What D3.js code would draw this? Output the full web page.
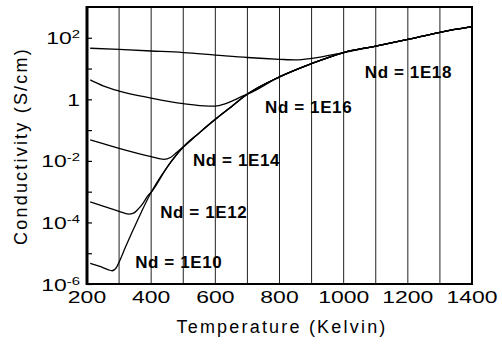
<!DOCTYPE html>
<html>
<head>
<meta charset="utf-8">
<script src="https://cdn.jsdelivr.net/npm/d3@7/dist/d3.min.js"></script>
<style>
  html, body { margin: 0; padding: 0; background: #fff; }
  svg { display: block; }
  text { font-family: "Liberation Sans", Arial, Helvetica, sans-serif; fill: #000; }
</style>
</head>
<body>
<svg id="chart" width="502" height="346"></svg>
<script>
// Electrical conductivity of silicon vs temperature for several donor densities (Nd, cm^-3)

// Intrinsic branch shared by every doping level (T in K, conductivity in S/cm)
const intrinsicT = [300, 320, 340, 370, 400, 450, 500, 550, 600, 650, 700, 800, 900, 1000, 1100, 1200, 1300, 1400];
const intrinsicS = [5.13e-6, 1.58e-5, 4.68e-5, 2.24e-4, 9.55e-4, 6.31e-3, 2.82e-2, 8.13e-2, 0.224, 0.575, 1.48, 5.37, 14.5, 33.1, 53.7, 89.1, 151, 229];

// Extrinsic (low temperature) branches, one per donor density
const nd10T = [210, 240, 265, 278, 292];
const nd10S = [4.68e-6, 3.72e-6, 2.95e-6, 2.69e-6, 3.47e-6];

const nd12T = [210, 250, 300, 330, 345, 360, 375, 390];
const nd12S = [4.68e-4, 3.39e-4, 2.29e-4, 1.86e-4, 2.00e-4, 2.75e-4, 4.27e-4, 7.41e-4];

const nd14T = [210, 250, 300, 400, 440, 460, 480];
const nd14S = [4.79e-2, 3.63e-2, 2.57e-2, 1.38e-2, 1.12e-2, 1.29e-2, 1.91e-2];

const nd16T = [210, 250, 300, 400, 500, 580, 600, 630, 660, 690];
const nd16S = [4.27, 2.75, 1.86, 1.10, 0.724, 0.603, 0.603, 0.708, 0.955, 1.35];

const nd18T = [210, 300, 400, 500, 600, 700, 800, 850, 900, 950];
const nd18S = [45.7, 41.7, 37.2, 33.1, 27.5, 22.9, 20.0, 19.1, 21.4, 26.3];

const seriesNames = ["Nd = 1E10", "Nd = 1E12", "Nd = 1E14", "Nd = 1E16", "Nd = 1E18"];
// label anchor in data space (left end of text, baseline)
const labelT = [350, 428, 530, 755, 1066];
const labelS = [3.3e-6, 1.4e-4, 6.8e-3, 0.36, 4.9];

const xTicks = [200, 400, 600, 800, 1000, 1200, 1400];
const xGrid = [300, 400, 500, 600, 700, 800, 900, 1000, 1100, 1200, 1300];
const yLabelExp = [2, 0, -2, -4, -6];
const yTickExp = [-6, -5, -4, -3, -2, -1, 0, 1, 2];

const W = 502, H = 346;
const plot = { left: 87, right: 472, top: 7, bottom: 284 };

const svg = d3.select("#chart");

const x = d3.scaleLinear().domain([200, 1400]).range([plot.left, plot.right]);
const y = d3.scaleLog().domain([1e-6, 1e3]).range([plot.bottom, plot.top]);

// vertical grid lines
svg.append("g")
  .selectAll("line")
  .data(xGrid)
  .join("line")
  .attr("x1", d => x(d)).attr("x2", d => x(d))
  .attr("y1", plot.top).attr("y2", plot.bottom)
  .attr("stroke", "#222")
  .attr("stroke-width", 1);

// left axis ticks pointing into the plot
const yAxis = d3.axisRight(y)
  .tickValues(yTickExp.map(e => Math.pow(10, e)))
  .tickSize(5)
  .tickFormat("");
svg.append("g")
  .attr("transform", `translate(${plot.left},0)`)
  .call(yAxis)
  .call(g => g.select(".domain").remove())
  .call(g => g.selectAll("line").attr("stroke", "#000").attr("stroke-width", 1.2));

// build each curve: extrinsic branch, then the intrinsic branch above its last temperature
function buildCurve(tArr, sArr) {
  const pts = tArr.map((t, i) => ({ t, s: sArr[i] }));
  const tMax = tArr[tArr.length - 1];
  intrinsicT.forEach((t, i) => { if (t > tMax) pts.push({ t, s: intrinsicS[i] }); });
  return pts;
}
const curves = [
  buildCurve(nd10T, nd10S),
  buildCurve(nd12T, nd12S),
  buildCurve(nd14T, nd14S),
  buildCurve(nd16T, nd16S),
  buildCurve(nd18T, nd18S)
];

const line = d3.line()
  .x(d => x(d.t))
  .y(d => y(d.s))
  .curve(d3.curveMonotoneX);

svg.append("g")
  .selectAll("path")
  .data(curves)
  .join("path")
  .attr("d", line)
  .attr("fill", "none")
  .attr("stroke", "#000")
  .attr("stroke-width", 1.3);

// series labels
svg.append("g")
  .selectAll("text")
  .data(seriesNames)
  .join("text")
  .attr("x", (d, i) => x(labelT[i]))
  .attr("y", (d, i) => y(labelS[i]))
  .attr("font-size", 17)
  .attr("font-weight", "bold")
  .attr("letter-spacing", 0.6)
  .text(d => d);

// frame
svg.append("rect")
  .attr("x", plot.left).attr("y", plot.top)
  .attr("width", plot.right - plot.left)
  .attr("height", plot.bottom - plot.top)
  .attr("fill", "none")
  .attr("stroke", "#000")
  .attr("stroke-width", 2);
svg.append("line")
  .attr("x1", plot.left).attr("x2", plot.left)
  .attr("y1", plot.top - 1).attr("y2", plot.bottom + 1)
  .attr("stroke", "#000").attr("stroke-width", 3);

// x tick labels
svg.append("g")
  .selectAll("g")
  .data(xTicks)
  .join("g")
  .attr("transform", d => `translate(${x(d)},303) scale(1.35,1)`)
  .append("text")
  .attr("text-anchor", "middle")
  .attr("font-size", 17)
  .text(d => d);

// y tick labels (powers of ten)
const yl = svg.append("g")
  .selectAll("g")
  .data(yLabelExp)
  .join("g")
  .attr("transform", d => `translate(80,${y(Math.pow(10, d)) + 6.5}) scale(1.35,1)`)
  .append("text")
  .attr("text-anchor", "end")
  .attr("font-size", 17);
yl.each(function (d) {
  const t = d3.select(this);
  if (d === 0) {
    t.text("1");
  } else {
    t.append("tspan").text("10");
    t.append("tspan").attr("font-size", 11).attr("dy", -6).text(d < 0 ? "-" + (-d) : String(d));
  }
});

// axis titles
svg.append("text")
  .attr("transform", "translate(282,333)")
  .attr("text-anchor", "middle")
  .attr("font-size", 18)
  .attr("letter-spacing", 2.2)
  .text("Temperature (Kelvin)");

svg.append("text")
  .attr("transform", "translate(27,146) rotate(-90)")
  .attr("text-anchor", "middle")
  .attr("font-size", 18)
  .attr("letter-spacing", 2.2)
  .text("Conductivity (S/cm)");
</script>
</body>
</html>
